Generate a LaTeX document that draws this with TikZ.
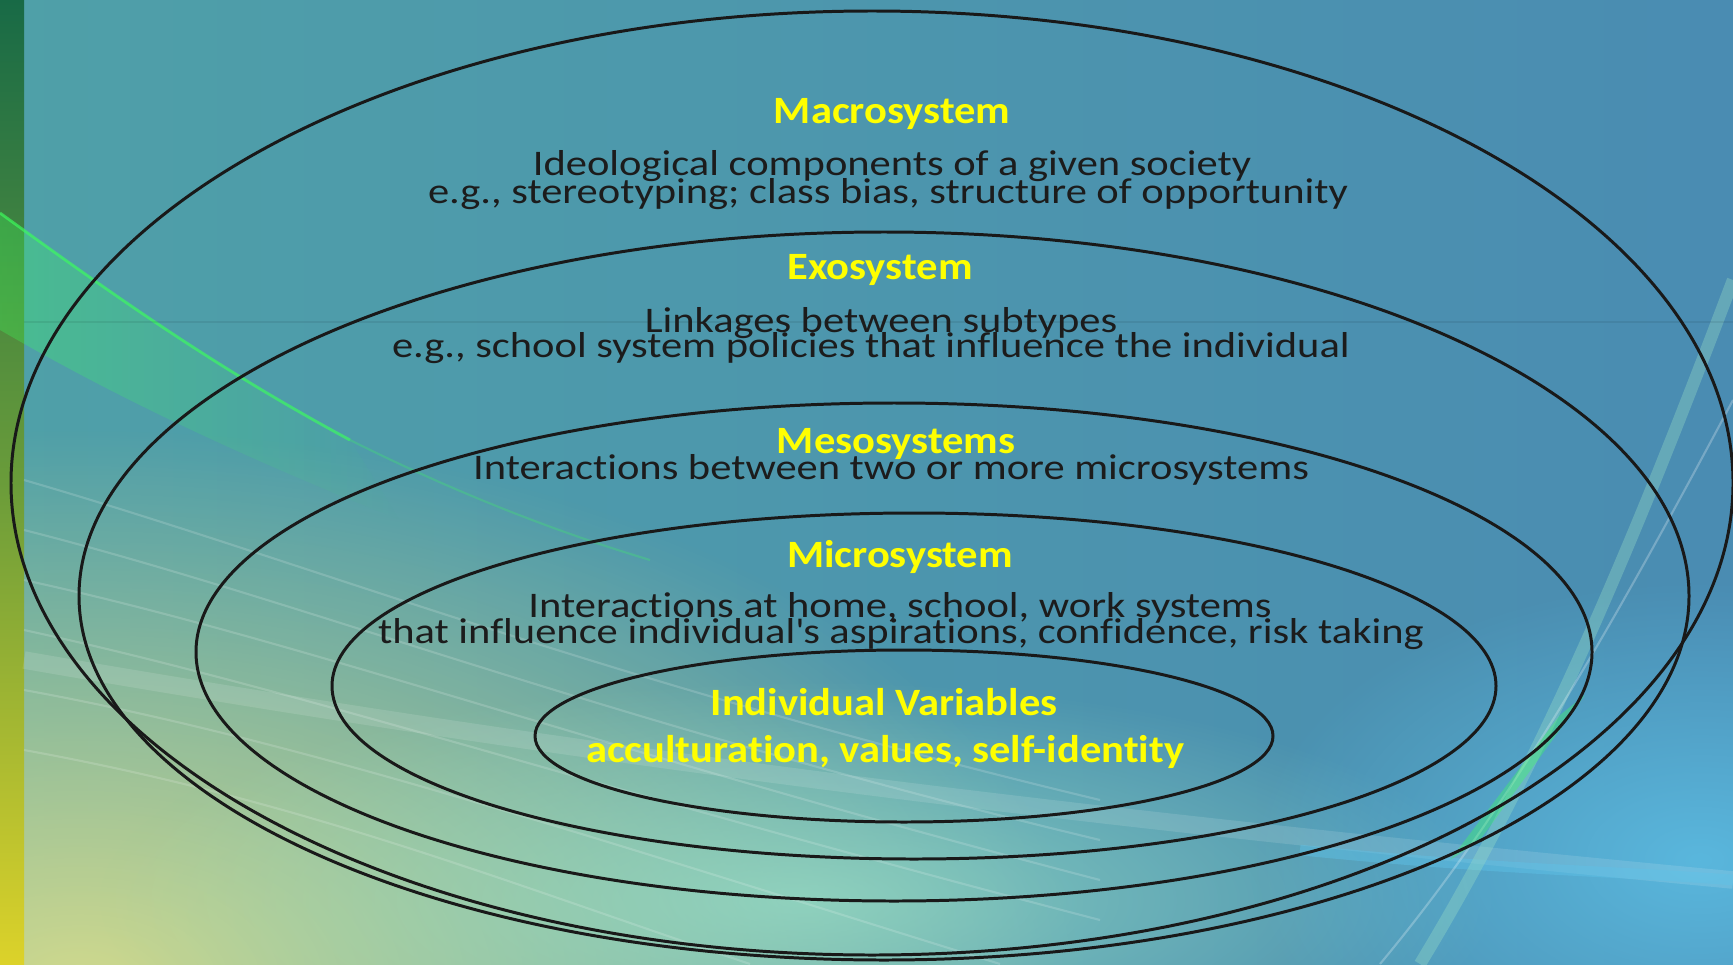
\documentclass[tikz,border=0pt]{standalone}
\usepackage{fontspec}
\setmainfont{Carlito}
\newfontfamily\sysbodyfont{Carlito}[FakeStretch=1.18, Ligatures=NoCommon]
\newfontfamily\systitlefont{Carlito}[FakeStretch=1.10, Ligatures=NoCommon]
\usepackage{tikz}
\usetikzlibrary{fadings}

\definecolor{sysyellow}{HTML}{FFFF00}
\definecolor{textdark}{HTML}{1C1C1C}
\definecolor{bgteal}{HTML}{4FA0A8}
\definecolor{bgblue}{HTML}{4A8CB2}
\definecolor{glowyellow}{HTML}{D6DC8C}
\definecolor{glowcyan}{HTML}{9ADFC6}
\definecolor{glowblue}{HTML}{5EC2E8}
\definecolor{stripgreen}{HTML}{186A46}
\definecolor{stripmid}{HTML}{6A9C3A}
\definecolor{stripyellow}{HTML}{DCD22A}
\definecolor{streakgreen}{HTML}{3CFF5C}

\tikzfading[name=glow, inner color=transparent!0, outer color=transparent!100]

\tikzset{
  ring/.style={draw=black!90, line width=1.7pt},
  systitle/.style={text=sysyellow, font=\systitlefont\bfseries\fontsize{22}{24}\selectfont, anchor=base, inner sep=0pt},
  sysbody/.style={text=textdark, font=\sysbodyfont\fontsize{20.5}{22}\selectfont, anchor=base, inner sep=0pt},
  streak/.style={white, opacity=0.16, line width=1.2pt}
}

\begin{document}
\begin{tikzpicture}[scale=0.2]
\useasboundingbox (0,0) rectangle (173.3,-96.4);
% background
\shade[left color=bgteal, right color=bgblue] (0,0) rectangle (173.3,-96.4);
\fill[glowyellow, path fading=glow, opacity=0.95] (8,-98) ellipse [x radius=100, y radius=55];
\fill[glowcyan, path fading=glow, opacity=0.75] (80,-90) ellipse [x radius=70, y radius=22];
\fill[glowblue, path fading=glow, opacity=0.8] (170,-86) ellipse [x radius=45, y radius=28];
\shade[top color=stripgreen, bottom color=stripyellow, middle color=stripmid] (0,0) rectangle (2.4,-96.4);
% streaks
\fill[streakgreen, opacity=0.3, path fading=east] (0,-21.3) .. controls (12,-30) and (22,-37) .. (35,-44) -- (40,-52) .. controls (25,-46) and (12,-40) .. (0,-33) -- cycle;
\draw[streakgreen, opacity=0.65, line width=1.6pt] (0,-21.3) .. controls (12,-30) and (22,-37) .. (35,-44);
\draw[streakgreen, opacity=0.25, line width=1.2pt] (35,-44) .. controls (45,-49) and (55,-53) .. (65,-56);
\draw[streak] (2.4,-48) .. controls (30,-56) and (60,-68) .. (110,-80);
\draw[streak] (2.4,-53) .. controls (30,-60) and (60,-72) .. (110,-84);
\draw[streak] (2.4,-58) .. controls (30,-64) and (60,-75) .. (110,-88);
\draw[streak] (2.4,-63) .. controls (30,-69) and (60,-79) .. (110,-92);
\draw[streak] (2.4,-69) .. controls (30,-74) and (60,-84) .. (100,-96.4);
\draw[streak] (2.4,-75) .. controls (30,-80) and (50,-88) .. (75,-96.4);
\draw[white, opacity=0.12, line width=10pt] (2.4,-66) .. controls (60,-76) and (110,-82) .. (173.3,-88);
\draw[glowblue, opacity=0.45, line width=6pt] (130,-85) .. controls (150,-87) and (160,-87) .. (173.3,-88);
\draw[glowcyan, opacity=0.35, line width=7pt] (173.3,-28) .. controls (165,-50) and (155,-75) .. (142,-96.4);
\draw[white, opacity=0.25, line width=1.2pt] (173.3,-40) .. controls (160,-65) and (150,-82) .. (138,-96.4);
\fill[streakgreen, opacity=0.35] (156,-71.5) -- (158.5,-69.5) -- (148,-84) -- (145,-86) -- cycle;
\draw[black, opacity=0.07, line width=0.6pt] (2.4,-32.2) -- (173.3,-32.2);
% system rings
\draw[ring] (87.2,-48.3) ellipse [x radius=86.1, y radius=47.2];
\draw[ring] (88.4,-59.6) ellipse [x radius=80.5, y radius=36.4];
\draw[ring] (89.4,-65.2) ellipse [x radius=69.8, y radius=24.9];
\draw[ring] (91.4,-68.6) ellipse [x radius=58.2, y radius=17.3];
\draw[ring] (90.4,-73.6) ellipse [x radius=36.9, y radius=8.6];
% labels
\node[systitle] (macrotitle) at (89.2,-12.3) {Macrosystem};
\node[sysbody] (macroideo) at (89.2,-17.5) {Ideological components of a given society};
\node[sysbody] (macroeg) at (88.8,-20.3) {e.g., stereotyping; class bias, structure of opportunity};
\node[systitle] (exotitle) at (88.0,-27.9) {Exosystem};
\node[sysbody] (exolink) at (88.1,-33.2) {Linkages between subtypes};
\node[sysbody] (exoeg) at (87.1,-35.7) {e.g., school system policies that influence the individual};
\node[systitle] (mesotitle) at (89.6,-45.3) {Mesosystems};
\node[sysbody] (mesointer) at (89.1,-47.9) {Interactions between two or more microsystems};
\node[systitle] (microtitle) at (90.0,-56.7) {Microsystem};
\node[sysbody] (microinter) at (90.0,-61.7) {Interactions at home, school, work systems};
\node[sysbody] (microinfl) at (90.1,-64.3) {that influence individual\textquotesingle s aspirations, confidence, risk taking};
\node[systitle] (indivtitle) at (88.4,-71.5) {Individual Variables};
\node[systitle] (indivvals) at (88.5,-76.2) {acculturation, values, self-identity};
\end{tikzpicture}
\end{document}
